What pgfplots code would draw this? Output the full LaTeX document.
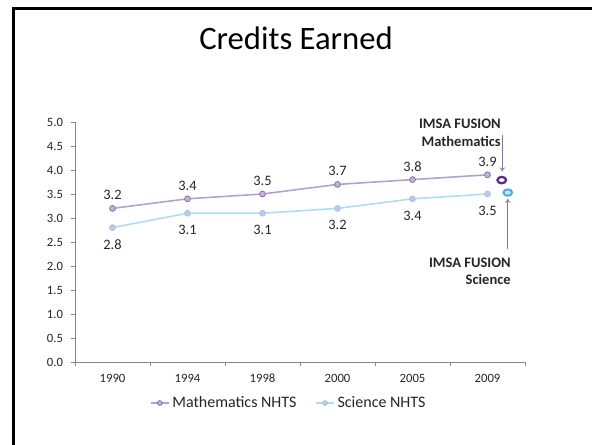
\documentclass[border=0pt]{standalone}
\usepackage{pgfplots}
\pgfplotsset{compat=1.18}
\usetikzlibrary{arrows.meta}
\usepackage{fontspec}
\setmainfont{Carlito}
\definecolor{mathline}{HTML}{B3A2CF}
\definecolor{mathmark}{HTML}{C2B1D8}
\definecolor{mathedge}{HTML}{8B6FAE}
\definecolor{sciline}{HTML}{ACDEF3}
\definecolor{scimark}{HTML}{C9C4E2}
\definecolor{sciedge}{HTML}{9CC9EA}
\definecolor{fusmath}{HTML}{5B2C86}
\definecolor{fussci}{HTML}{4BAEE0}
\definecolor{fusscifill}{HTML}{C6E7F8}
\definecolor{axisgray}{HTML}{868686}
\definecolor{txt}{HTML}{262626}
\begin{document}
\begin{tikzpicture}
\useasboundingbox (0,0) rectangle (444pt,333pt);
\draw[line width=2pt, black] (10.3pt,-60pt) rectangle (520pt,326.8pt);
\node[font=\fontsize{24.5}{29}\selectfont, text=black] at (222pt,304pt) {Credits Earned};
\begin{axis}[
  at={(56.25pt,61.5pt)}, anchor=south west,
  scale only axis, width=337.5pt, height=180pt,
  xmin=0, xmax=6, ymin=0, ymax=5,
  clip=false,
  axis x line*=bottom, axis y line*=left,
  axis line style={draw=axisgray, line width=0.6pt},
  tick align=outside,
  major tick length=3pt,
  tick style={draw=axisgray, line width=0.6pt},
  xtick={0,1,2,3,4,5,6}, xticklabels={},
  extra x ticks={0.5,1.5,2.5,3.5,4.5,5.5},
  extra x tick labels={1990,1994,1998,2000,2005,2009},
  extra x tick style={major tick length=0pt, tick style={draw=none},
    xticklabel style={text height=7pt, text depth=0pt, yshift=-5pt}},
  ytick={0,0.5,...,5},
  yticklabel style={/pgf/number format/fixed, /pgf/number format/precision=1, /pgf/number format/fixed zerofill, xshift=-2.5pt},
  /pgf/number format/assume math mode=true,
  ticklabel style={font=\fontsize{9.5}{11}\selectfont, text=txt},
  legend columns=2,
  legend style={at={(axis description cs:0.4756,-0.171)}, anchor=center, draw=none, fill=none,
    font=\fontsize{12}{14}\selectfont, text=txt,
    /tikz/every even column/.append style={column sep=12pt}},
  legend image code/.code={\draw[mark repeat=2,mark phase=2, mark size=1.8pt] plot coordinates {(0cm,0cm)(0.24cm,0cm)(0.48cm,0cm)};},
]
\addplot[mathline, line width=1.2pt, mark=*, mark size=2.2pt, mark options={fill=mathmark, draw=mathedge, line width=0.6pt},
  nodes near coords, point meta=explicit symbolic,
  nodes near coords style={font=\fontsize{10.8}{12}\selectfont, text=txt, anchor=south, inner sep=0pt, yshift=6pt}]
  coordinates {(0.5,3.2)[3.2] (1.5,3.4)[3.4] (2.5,3.5)[3.5] (3.5,3.7)[3.7] (4.5,3.8)[3.8] (5.5,3.9)[3.9]};
\addlegendentry{Mathematics NHTS}
\addplot[sciline, line width=1.2pt, mark=*, mark size=2.2pt, mark options={fill=scimark, draw=sciedge, line width=0.6pt},
  nodes near coords, point meta=explicit symbolic,
  nodes near coords style={font=\fontsize{10.8}{12}\selectfont, text=txt, anchor=north, inner sep=0pt, yshift=-8.6pt}]
  coordinates {(0.5,2.8)[2.8] (1.5,3.1)[3.1] (2.5,3.1)[3.1] (3.5,3.2)[3.2] (4.5,3.4)[3.4] (5.5,3.5)[3.5]};
\addlegendentry{Science NHTS}
\addplot[forget plot, only marks, mark=*, mark size=2.4pt, mark options={xscale=1.35, fill=white, draw=fusmath, line width=1.7pt}]
  coordinates {(5.69,3.79)};
\addplot[forget plot, only marks, mark=*, mark size=2.4pt, mark options={xscale=1.35, fill=fusscifill, draw=fussci, line width=1.5pt}]
  coordinates {(5.77,3.53)};
\draw[mathedge, line width=0.6pt, -{To[length=3pt,width=4pt]}] (axis cs:5.697,4.73) -- (axis cs:5.697,3.97);
\draw[mathedge, line width=0.6pt, -{To[length=3pt,width=4pt]}] (axis cs:5.77,2.35) -- (axis cs:5.77,3.40);
\node[anchor=east, align=right, inner sep=0pt, font=\bfseries\fontsize{10.9}{13.3}\selectfont, text=txt] at (axis cs:5.68,4.77) {IMSA FUSION\\Mathematics};
\node[anchor=east, align=right, inner sep=0pt, font=\bfseries\fontsize{10.9}{13.3}\selectfont, text=txt] at (axis cs:5.813,1.89) {IMSA FUSION\\Science};
\end{axis}
\end{tikzpicture}
\end{document}
